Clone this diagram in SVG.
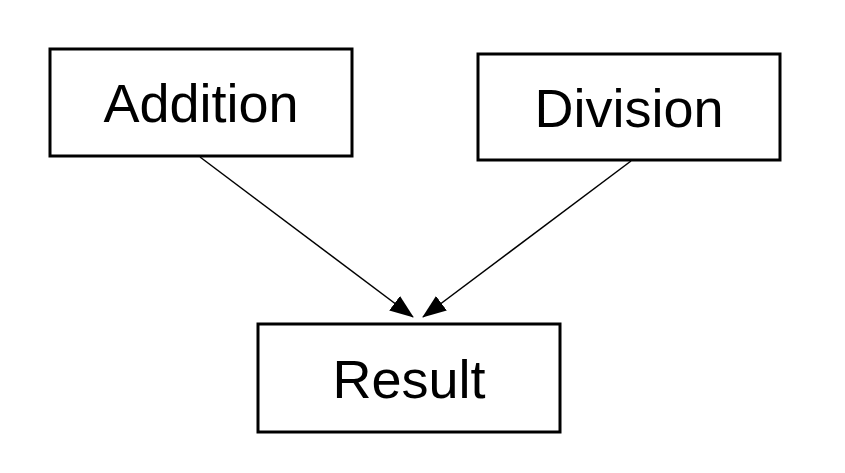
<svg xmlns="http://www.w3.org/2000/svg" width="845" height="473" viewBox="0 0 845 473">
<defs>
<style>
.box{fill:#fff;stroke:#000;stroke-width:3}
.lbl{font-family:"Liberation Sans",Arial,sans-serif;font-size:54px;fill:#000;text-anchor:middle}
.edge{stroke:#000;stroke-width:1.5;fill:none}
</style>
<marker id="ah" markerWidth="24" markerHeight="18" refX="23" refY="9" orient="auto" markerUnits="userSpaceOnUse">
<path d="M0,0 L24,9 L0,18 Z" fill="#000"/>
</marker>
</defs>
<rect width="845" height="473" fill="#fff"/>
<g id="addition">
<rect class="box" x="50" y="49" width="302" height="107"/>
<text class="lbl" x="201" y="122">Addition</text>
</g>
<g id="division">
<rect class="box" x="478" y="54" width="302" height="106"/>
<text class="lbl" x="629" y="127">Division</text>
</g>
<g id="result">
<rect class="box" x="258" y="324" width="302" height="108"/>
<text class="lbl" x="409" y="398">Result</text>
</g>
<g id="connectors">
<line class="edge" x1="200" y1="157" x2="413" y2="317" marker-end="url(#ah)"/>
<line class="edge" x1="631" y1="161" x2="423" y2="317" marker-end="url(#ah)"/>
</g>
</svg>
